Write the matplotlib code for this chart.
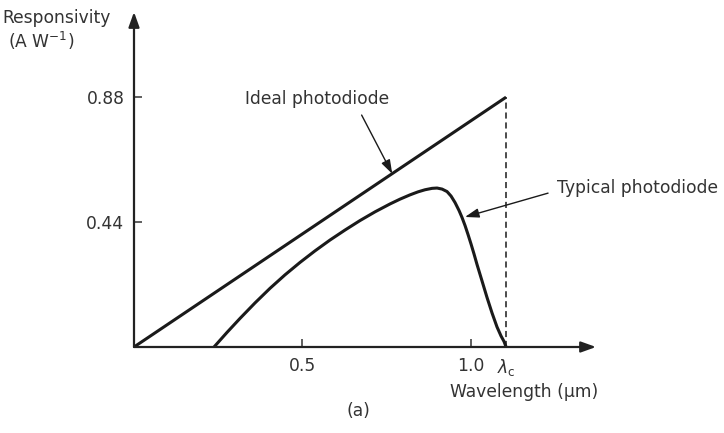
import matplotlib.pyplot as plt

# 読み取った値 (µm, A/W)
lambda_c = 1.105
ideal_x = [0.0, lambda_c]
ideal_y = [0.0, 0.88]

typical_x = [0.2376, 0.2762, 0.3148, 0.3594, 0.4039, 0.4485, 0.4930, 0.5376,
             0.5821, 0.6267, 0.6712, 0.7158, 0.7603, 0.7900, 0.8197, 0.8435,
             0.8643, 0.8851, 0.8999, 0.9148, 0.9296, 0.9415, 0.9534, 0.9653,
             0.9742, 0.9831, 0.9920, 1.0009, 1.0098, 1.0187, 1.0336, 1.0484,
             1.0633, 1.0781, 1.0900, 1.0989, 1.1050]
typical_y = [0.0, 0.0514, 0.1007, 0.1553, 0.2067, 0.2542, 0.2979, 0.3387,
             0.3768, 0.4120, 0.4454, 0.4761, 0.5039, 0.5208, 0.5359, 0.5465,
             0.5539, 0.5588, 0.5599, 0.5563, 0.5475, 0.5317, 0.5088, 0.4806,
             0.4560, 0.4278, 0.3961, 0.3627, 0.3275, 0.2905, 0.2324, 0.1743,
             0.1197, 0.0704, 0.0387, 0.0194, 0.0]

xticks = [0.5, 1.0, lambda_c]
xtick_labels = ['0.5', '1.0', r'$\lambda_{\rm c}$']
yticks = [0.44, 0.88]
ytick_labels = ['0.44', '0.88']

plt.rcParams['font.family'] = ['DejaVu Sans']
plt.rcParams['mathtext.fontset'] = 'dejavusans'
txt = '#333333'
axc = '#444444'
fs = 12.3

fig = plt.figure(figsize=(7.24, 4.33), dpi=100)
ax = fig.add_axes([134 / 724, 86 / 433, 462 / 724, 335 / 433])
ax.set_xlim(0, 1.372)
ax.set_ylim(0, 1.18)
for s in ax.spines.values():
    s.set_visible(False)

# 軸（矢印つき）
axis_arrow = dict(arrowstyle='-|>,head_length=0.5,head_width=0.18',
                  color='#222222', lw=1.6, mutation_scale=18,
                  shrinkA=0, shrinkB=0)
ax.annotate('', xy=(1.372, 0), xytext=(0, 0), arrowprops=axis_arrow,
            annotation_clip=False)
ax.annotate('', xy=(0, 1.18), xytext=(0, 0), arrowprops=axis_arrow,
            annotation_clip=False)

ax.set_xticks(xticks)
ax.set_xticklabels(xtick_labels)
ax.set_yticks(yticks)
ax.set_yticklabels(ytick_labels)
ax.tick_params(direction='in', length=6, width=1.2, color=axc,
               labelsize=fs, labelcolor=txt, pad=7)
ax.xaxis.get_major_ticks()[2].tick1line.set_visible(False)

# 曲線
ax.plot(ideal_x, ideal_y, color='#1a1a1a', lw=2.2, solid_capstyle='butt')
ax.plot(typical_x, typical_y, color='#1a1a1a', lw=2.2,
        solid_joinstyle='round', solid_capstyle='butt')
ax.plot([lambda_c, lambda_c], [0, 0.88], color='#1a1a1a', lw=1.1,
        linestyle=(0, (4, 2.5)))

# 注釈
note_arrow = dict(arrowstyle='-|>,head_length=0.6,head_width=0.2',
                  color='#1a1a1a', lw=1.0, mutation_scale=14,
                  shrinkA=0, shrinkB=0)
ax.text(0.5435, 0.873, 'Ideal photodiode', ha='center', va='center',
        fontsize=fs, color=txt)
ax.annotate('', xy=(0.767, 0.61), xytext=(0.676, 0.817),
            arrowprops=note_arrow, annotation_clip=False)
ax.text(1.256, 0.56, 'Typical photodiode', ha='left', va='center',
        fontsize=fs, color=txt, clip_on=False)
ax.annotate('', xy=(0.983, 0.458), xytext=(1.2296, 0.542),
            arrowprops=note_arrow, annotation_clip=False)

fig.text(2 / 724, 1 - 23 / 433, 'Responsivity', fontsize=fs, color=txt,
         ha='left', va='baseline')
fig.text(8 / 724, 1 - 48 / 433, '(A W$^{-1}$)', fontsize=fs, color=txt,
         ha='left', va='baseline')
fig.text(524 / 724, 1 - 392 / 433, 'Wavelength (µm)', fontsize=fs, color=txt,
         ha='center', va='center')
fig.text(358 / 724, 1 - 411 / 433, '(a)', fontsize=fs, color=txt,
         ha='center', va='center')

fig.savefig('out.png', dpi=100)
